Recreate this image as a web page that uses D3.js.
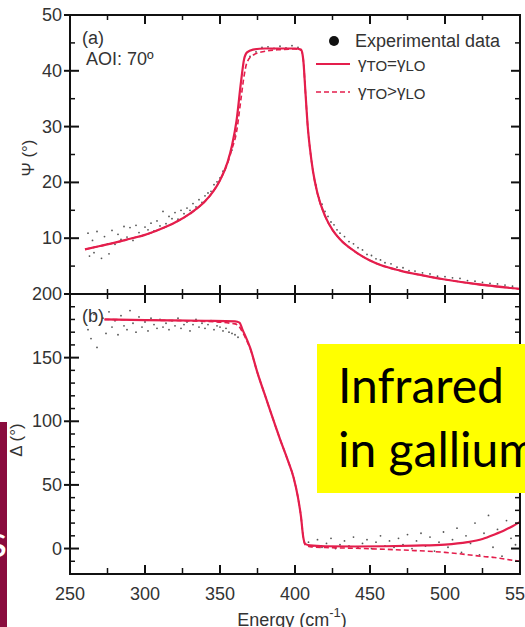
<!DOCTYPE html>
<html>
<head>
<meta charset="utf-8">
<script src="https://cdnjs.cloudflare.com/ajax/libs/d3/7.8.5/d3.min.js"></script>
<style>
body { margin: 0; background: #fff; overflow: hidden; }
svg text { font-family: "Liberation Sans", Arial, sans-serif; fill: #333; }
</style>
</head>
<body>
<div id="chart-area"></div>
<script>

var width = 525,
    height = 627;

// ---- data ----
// panel (a): psi model curves
var energyPsi = [260, 270, 280, 290, 300, 310, 320, 330, 340, 345, 350, 355, 358, 361, 364, 366, 368, 372, 380, 390, 400, 404, 405.5, 407, 408.5, 410, 412, 415, 420, 425, 430, 440, 450, 457, 470, 480, 500, 520, 550];
var psiEqual   = [8.0, 8.6, 9.2, 9.9, 10.6, 11.6, 12.8, 14.4, 16.6, 18.2, 20.4, 23.6, 26.6, 31, 38, 42, 43.3, 43.8, 44, 44, 44, 43.8, 42, 36, 30, 26, 22, 18, 14, 11.5, 9.8, 7.6, 6.0, 5.2, 4.2, 3.6, 2.6, 1.8, 0.9];
var psiGreater = [8.0, 8.6, 9.2, 9.9, 10.6, 11.6, 12.8, 14.4, 16.6, 18.2, 20.4, 23.4, 26.0, 29, 35, 39, 41.5, 42.8, 43.5, 43.8, 43.9, 43.7, 42, 36, 30, 26, 22, 18, 14, 11.5, 9.8, 7.6, 6.0, 5.2, 4.2, 3.6, 2.6, 1.8, 0.9];

// panel (b): delta model curves
var energyDelta = [273, 300, 340, 360, 363, 365, 368, 370, 375, 381, 385, 390, 395, 399, 402, 404, 405.5, 407, 410, 420, 440, 460, 480, 500, 515, 525, 533, 540, 545, 550];
var deltaEqual   = [180, 179.5, 179, 178.5, 177.5, 172, 164, 158, 138, 117, 103, 86, 70, 56, 40, 25, 9, 3.5, 2.5, 1.8, 1.6, 1.8, 2.3, 3.1, 5, 7.5, 11, 14.5, 17.5, 21];
var deltaGreater = [180, 179.5, 178.5, 176.5, 174, 170, 163, 157.5, 138, 117, 103, 86, 70, 56, 40, 25, 9, 2.5, 1.5, 0.8, 0.2, -0.6, -1.6, -3, -4.8, -6.2, -7, -8.3, -9.2, -10];

// experimental points
var expEnergyPsi = [262, 263, 265, 266, 268, 270, 271, 273, 275, 276, 278, 280, 282, 284, 286, 288, 290, 292, 294, 296, 298, 300, 302, 304, 306, 308, 310, 312, 314, 316, 318, 320, 322, 324, 326, 328, 330, 332, 334, 336, 338, 340, 342, 344, 346, 348, 350, 352, 354, 356, 358, 360,
  370, 374, 378, 382, 386, 390, 394, 398, 402,
  414, 416, 418, 420, 422, 424, 426, 428, 430, 433, 436, 439, 442, 445, 448, 451, 454, 457, 460, 464, 468, 472, 476, 480, 485, 490, 495, 500, 505, 510, 515, 520, 525, 530, 535, 540, 545];
var expPsi = [10.9, 6.8, 9.6, 7.4, 11.2, 8.6, 6.4, 10.3, 9.0, 7.2, 11.4, 8.9, 10.7, 9.8, 12.1, 10.2, 11.9, 9.6, 12.3, 11.0, 10.4, 12.0, 11.5, 12.7, 11.3, 13.1, 12.2, 14.8, 12.6, 13.9, 13.5, 14.6, 13.4, 15.0, 14.4, 15.4, 15.0, 16.2, 15.6, 16.9, 16.4, 17.6, 18.1, 18.4, 19.6, 20.1, 20.8, 22.0, 22.9, 24.6, 25.8, 28.5,
  42.6, 43.4, 44.2, 44.3, 44.0, 44.4, 44.1, 44.5, 44.2,
  19.5, 17.2, 16.1, 14.8, 13.9, 12.9, 12.4, 11.5, 10.9, 10.3, 9.4, 9.0, 8.3, 7.9, 7.1, 6.9, 6.3, 6.1, 5.6, 5.4, 4.8, 4.7, 4.2, 4.1, 3.8, 3.6, 3.2, 3.1, 2.9, 2.8, 2.4, 2.3, 2.1, 1.9, 1.8, 1.6, 1.4];

var expEnergyDelta = [262, 264, 266, 268, 270, 272, 274, 276, 278, 280, 282, 284, 286, 288, 290, 292, 294, 296, 298, 300, 302, 304, 306, 308, 310, 312, 314, 316, 318, 320, 322, 324, 326, 328, 330, 332, 334, 336, 338, 340, 342, 344, 346, 348, 350, 352, 354, 356, 358, 360, 362,
  409, 412, 415, 418, 421, 424, 427, 430, 433, 436, 439, 442, 445, 448, 451, 454, 457, 460, 463, 466, 469, 472, 475, 478, 481, 484, 487, 490, 493, 496, 499, 502, 505, 508, 511, 514, 517, 520, 523, 526, 529, 532, 535, 538, 541, 544, 547];
var expDelta = [172, 165, 184, 158, 176, 181, 169, 186, 174, 179, 168, 183, 175, 172, 187, 177, 170, 182, 174, 178, 171, 181, 176, 173, 180, 174, 177, 172, 179, 175, 181, 173, 176, 178, 171, 176, 180, 174, 177, 173, 176, 179, 172, 175, 174, 171, 173, 170, 169, 168, 166,
  5, 2, 7, 1, 4, 8, 0, 3, 6, 2, 9, 1, 4, 7, 0, 5, 10, 2, 6, 1, 8, 3, 11, 0, 6, 12, 2, 9, -2, 5, 13, 1, 7, 16, -3, 10, 4, 20, -5, 12, 26, 1, 15, -6, 22, 8, 3, 18];

// axis ticks
var xMajor = [250, 300, 350, 400, 450, 500, 550];
var xMinor = [275, 325, 375, 425, 475, 525];
var psiMajor = [10, 20, 30, 40, 50];
var psiMinor = [5, 15, 25, 35, 45];
var deltaMajor = [0, 50, 100, 150, 200];
var deltaMinor = [-10, 10, 20, 30, 40, 60, 70, 80, 90, 110, 120, 130, 140, 160, 170, 180, 190];

var red = "#e41e4c";

var svg = d3.select("#chart-area").append("svg")
    .attr("width", width)
    .attr("height", height);

// plot box edges (top panel a, bottom panel b)
var pL = 70, pR = 520, pT = 15, pM = 294, pB = 574;

var x = d3.scaleLinear().domain([250, 550]).range([pL, pR]);
var yA = d3.scaleLinear().domain([0, 50]).range([pM, pT]);
var yB = d3.scaleLinear().domain([-20, 200]).range([pB, pM]);

// clip paths for the two panels
var defs = svg.append("defs");
defs.append("clipPath").attr("id", "clipA").append("rect")
    .attr("x", pL).attr("y", pT).attr("width", pR - pL).attr("height", pM - pT);
defs.append("clipPath").attr("id", "clipB").append("rect")
    .attr("x", pL).attr("y", pM).attr("width", pR - pL).attr("height", pB - pM);

function zip(xs, ys) {
  return xs.map(function(d, i) { return [d, ys[i]]; });
}

// experimental points (drawn first, under the curves)
var gA = svg.append("g").attr("clip-path", "url(#clipA)");
var gB = svg.append("g").attr("clip-path", "url(#clipB)");

gA.selectAll(".dotA")
  .data(zip(expEnergyPsi, expPsi))
  .enter()
  .append("circle")
  .attr("class", "dotA")
  .attr("cx", d => x(d[0]))
  .attr("cy", d => yA(d[1]))
  .attr("r", 0.9)
  .style("fill", "#555");

gB.selectAll(".dotB")
  .data(zip(expEnergyDelta, expDelta))
  .enter()
  .append("circle")
  .attr("class", "dotB")
  .attr("cx", d => x(d[0]))
  .attr("cy", d => yB(d[1]))
  .attr("r", 0.9)
  .style("fill", "#555");

// model curves
var lineA = d3.line().x(d => x(d[0])).y(d => yA(d[1])).curve(d3.curveMonotoneX);
var lineB = d3.line().x(d => x(d[0])).y(d => yB(d[1])).curve(d3.curveMonotoneX);

gA.append("path").datum(zip(energyPsi, psiGreater))
  .attr("d", lineA).attr("fill", "none")
  .attr("stroke", red).attr("stroke-width", 1.6).attr("stroke-dasharray", "5,3");
gA.append("path").datum(zip(energyPsi, psiEqual))
  .attr("d", lineA).attr("fill", "none")
  .attr("stroke", red).attr("stroke-width", 2.2);

gB.append("path").datum(zip(energyDelta, deltaGreater))
  .attr("d", lineB).attr("fill", "none")
  .attr("stroke", red).attr("stroke-width", 1.6).attr("stroke-dasharray", "5,3");
gB.append("path").datum(zip(energyDelta, deltaEqual))
  .attr("d", lineB).attr("fill", "none")
  .attr("stroke", red).attr("stroke-width", 2.2);

// frame
svg.append("rect")
  .attr("x", pL).attr("y", pT)
  .attr("width", pR - pL).attr("height", pB - pT)
  .attr("fill", "none").attr("stroke", "#111").attr("stroke-width", 2);
svg.append("line")
  .attr("x1", pL).attr("x2", pR).attr("y1", pM).attr("y2", pM)
  .attr("stroke", "#111").attr("stroke-width", 2);

// tick helper: draws short lines from (a to b) along each value
var ticks = svg.append("g").attr("stroke", "#111");
function hTicks(vals, scale, y1, y2, w) {
  ticks.selectAll(null).data(vals).enter().append("line")
    .attr("x1", d => scale(d)).attr("x2", d => scale(d))
    .attr("y1", y1).attr("y2", y2).attr("stroke-width", w);
}
function vTicks(vals, scale, x1, x2, w) {
  ticks.selectAll(null).data(vals).enter().append("line")
    .attr("y1", d => scale(d)).attr("y2", d => scale(d))
    .attr("x1", x1).attr("x2", x2).attr("stroke-width", w);
}

// top, middle, bottom x ticks
hTicks(xMajor, x, pT, pT + 9, 2);
hTicks(xMinor, x, pT, pT + 5, 1.5);
hTicks(xMajor, x, pM - 9, pM + 9, 2);
hTicks(xMinor, x, pM - 5, pM + 5, 1.5);
hTicks(xMajor, x, pB - 9, pB, 2);
hTicks(xMinor, x, pB - 6, pB, 1.5);

// left and right y ticks
vTicks(psiMajor, yA, pL - 6, pL + 9, 2);
vTicks(psiMinor, yA, pL, pL + 5, 1.5);
vTicks(psiMajor, yA, pR - 9, pR, 2);
vTicks(psiMinor, yA, pR - 5, pR, 1.5);
vTicks(deltaMajor, yB, pL - 6, pL + 9, 2);
vTicks(deltaMinor, yB, pL, pL + 5, 1.5);
vTicks(deltaMajor, yB, pR - 9, pR, 2);
vTicks(deltaMinor, yB, pR - 5, pR, 1.5);

// tick labels
svg.selectAll(".xlab").data(xMajor).enter().append("text")
  .attr("class", "xlab")
  .attr("x", d => x(d)).attr("y", pB + 26)
  .attr("text-anchor", "middle").style("font-size", "18px")
  .text(d => d);
svg.selectAll(".ylabA").data(psiMajor).enter().append("text")
  .attr("class", "ylabA")
  .attr("x", pL - 8).attr("y", d => yA(d) + 6)
  .attr("text-anchor", "end").style("font-size", "18px")
  .text(d => d);
svg.selectAll(".ylabB").data(deltaMajor).enter().append("text")
  .attr("class", "ylabB")
  .attr("x", pL - 8).attr("y", d => yB(d) + 6)
  .attr("text-anchor", "end").style("font-size", "18px")
  .text(d => d);

// axis titles
svg.append("text")
  .attr("transform", "translate(34,158) rotate(-90)")
  .attr("text-anchor", "middle").style("font-size", "17px")
  .text("\u03A8 (\u00B0)");
svg.append("text")
  .attr("transform", "translate(22,440) rotate(-90)")
  .attr("text-anchor", "middle").style("font-size", "17px")
  .text("\u0394 (\u00B0)");
var xt = svg.append("text")
  .attr("x", 292).attr("y", 626)
  .attr("text-anchor", "middle").style("font-size", "18px");
xt.append("tspan").text("Energy (cm");
xt.append("tspan").attr("dy", -9).style("font-size", "13px").text("-1");
xt.append("tspan").attr("dy", 9).text(")");

// panel labels
svg.append("text").attr("x", 82).attr("y", 44).style("font-size", "18px").text("(a)");
svg.append("text").attr("x", 86).attr("y", 65).style("font-size", "18px").text("AOI: 70\u00BA");
svg.append("text").attr("x", 82).attr("y", 322).style("font-size", "18px").text("(b)");

// legend
var leg = svg.append("g");
leg.append("circle").attr("cx", 334).attr("cy", 41).attr("r", 5).style("fill", "#111");
leg.append("text").attr("x", 355).attr("y", 47).style("font-size", "18px").text("Experimental data");
leg.append("line").attr("x1", 316).attr("x2", 350).attr("y1", 64).attr("y2", 64)
  .attr("stroke", red).attr("stroke-width", 2);
leg.append("line").attr("x1", 316).attr("x2", 350).attr("y1", 92).attr("y2", 92)
  .attr("stroke", red).attr("stroke-width", 1.6).attr("stroke-dasharray", "5,3");

function gammaLabel(y, sign) {
  var t = leg.append("text").attr("x", 358).attr("y", y).style("font-size", "17px");
  t.append("tspan").text("\u03B3");
  t.append("tspan").attr("dy", 2).style("font-size", "15px").text("TO");
  t.append("tspan").attr("dy", -2).text(sign + "\u03B3");
  t.append("tspan").attr("dy", 2).style("font-size", "15px").text("LO");
}
gammaLabel(69, "=");
gammaLabel(97, ">");

// slide overlays
svg.append("rect").attr("x", 0).attr("y", 422).attr("width", 7).attr("height", 205)
  .attr("fill", "#8a0c3e");
svg.append("text").attr("x", -12).attr("y", 557)
  .style("font-family", "Lato, sans-serif").style("font-size", "44px").style("fill", "#fff")
  .text("s");

svg.append("rect").attr("x", 317).attr("y", 344).attr("width", 215).attr("height", 149)
  .attr("fill", "#ffff00");
svg.append("text").attr("x", 338).attr("y", 403)
  .style("font-family", "Lato, sans-serif").style("font-size", "48px").style("fill", "#000")
  .text("Infrared");
svg.append("text").attr("x", 338).attr("y", 467)
  .style("font-family", "Lato, sans-serif").style("font-size", "48px").style("fill", "#000")
  .text("in gallium");

</script>
</body>
</html>
